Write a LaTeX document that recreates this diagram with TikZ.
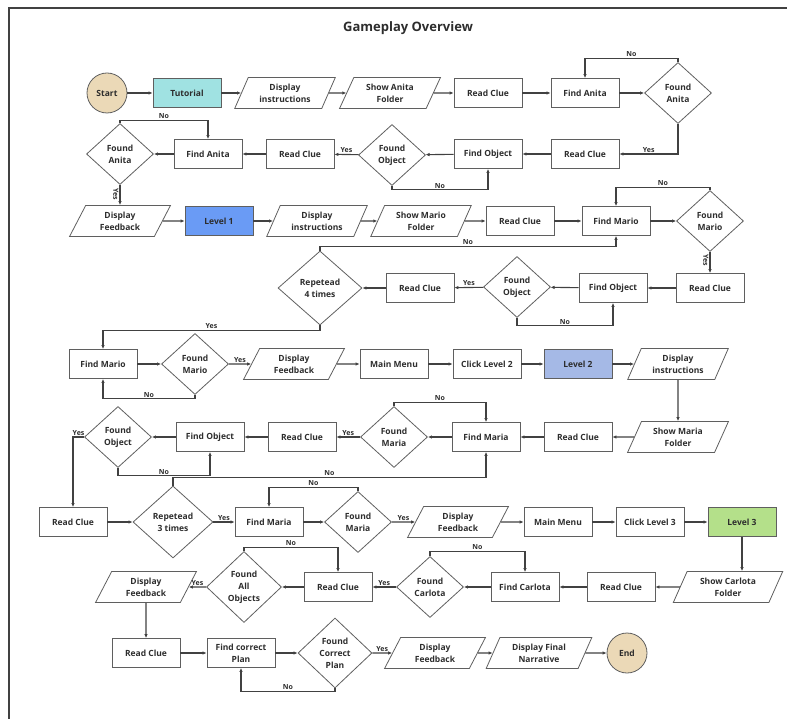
\documentclass[tikz,border=0pt]{standalone}
\usepackage{fontspec}
\setmainfont{Open Sans}
\usetikzlibrary{shapes.geometric,arrows.meta}
\definecolor{termfill}{RGB}{235,217,183}
\definecolor{tutfill}{RGB}{160,226,226}
\definecolor{lvonefill}{RGB}{106,155,245}
\definecolor{lvtwofill}{RGB}{165,185,230}
\definecolor{lvthreefill}{RGB}{180,224,138}
\definecolor{linegray}{RGB}{95,95,95}
\definecolor{arrgray}{RGB}{65,65,65}
\definecolor{txt}{RGB}{45,45,45}

\begin{document}
\begin{tikzpicture}[x=1pt,y=1pt,yscale=-1,
    font=\fontsize{8.5}{12}\selectfont\bfseries,
    box/.style={draw=linegray, line width=0.8pt, minimum width=68pt, minimum height=29pt, inner sep=1pt, align=center, text=txt},
    para/.style={trapezium, trapezium left angle=63, trapezium right angle=117, trapezium stretches=true, draw=linegray, line width=0.8pt, minimum width=101pt, minimum height=31pt, inner sep=0pt, align=center, text=txt},
    dec/.style={diamond, draw=linegray, line width=0.8pt, minimum width=67pt, minimum height=61pt, inner sep=0pt, align=center, text=txt},
    term/.style={circle, draw=linegray, line width=0.8pt, fill=termfill, minimum size=40pt, inner sep=0pt, text=txt},
    arr/.style={-{Latex[length=4pt,width=3.5pt]}, draw=arrgray, line width=1.1pt},
    lbl/.style={font=\fontsize{7}{7.5}\selectfont\bfseries, text=txt, inner sep=1pt},
    ]
    \useasboundingbox (0,0) rectangle (787,719);
    % frame
    \draw[line width=1.2pt, arrgray] (9,719) -- (9,8) -- (787,8);
    % Text Node
    \node[font=\fontsize{13}{15}\selectfont\bfseries, text=txt] (title) at (408,28) {Gameplay Overview};

    % row 1
    \node[term] (start) at (107,93) {Start};
    \node[box, fill=tutfill] (tut) at (187,93) {Tutorial};
    \node[para] (di1) at (285,93) {Display\\instructions};
    \node[para] (saf) at (390,93) {Show Anita\\Folder};
    \node[box] (rc1) at (488,93) {Read Clue};
    \node[box] (fa1) at (585,93) {Find Anita};
    \node[dec] (dfa1) at (678,93) {Found\\Anita};
    % row 2
    \node[box] (rc2) at (585,154) {Read Clue};
    \node[box] (fo1) at (488,154) {Find Object};
    \node[dec] (dfo1) at (392,155) {Found\\Object};
    \node[box] (rc3) at (300,154) {Read Clue};
    \node[box] (fa2) at (208,154) {Find Anita};
    \node[dec] (dfa2) at (120,154) {Found\\Anita};
    % row 3
    \node[para] (df1) at (120,221) {Display\\Feedback};
    \node[box, fill=lvonefill] (lv1) at (219,221) {Level 1};
    \node[para] (di2) at (317,221) {Display\\instructions};
    \node[para] (smf) at (421,221) {Show Mario\\Folder};
    \node[box] (rc4) at (520,221) {Read Clue};
    \node[box] (fm1) at (616,221) {Find Mario};
    \node[dec] (dfm1) at (710,221) {Found\\Mario};
    % row 4
    \node[box] (rc5) at (710,288) {Read Clue};
    \node[box] (fo2) at (613,288) {Find Object};
    \node[dec] (dfo2) at (517,287) {Found\\Object};
    \node[box] (rc6) at (420,288) {Read Clue};
    \node[dec, minimum width=84pt, minimum height=74pt] (rep4) at (320,288) {Repetead\\4 times};
    % row 5
    \node[box] (fm2) at (103,364) {Find Mario};
    \node[dec] (dfm2) at (195,364) {Found\\Mario};
    \node[para] (df2) at (294,364) {Display\\Feedback};
    \node[box] (mm2) at (394,364) {Main Menu};
    \node[box] (cl2) at (487,364) {Click Level 2};
    \node[box, fill=lvtwofill] (lv2) at (578,364) {Level 2};
    \node[para] (di3) at (678,364) {Display\\instructions};
    % row 6
    \node[para] (smaf) at (678,437) {Show Maria\\Folder};
    \node[box] (rc7) at (578,437) {Read Clue};
    \node[box] (fma1) at (486,437) {Find Maria};
    \node[dec] (dfma1) at (394,437) {Found\\Maria};
    \node[box] (rc8) at (302,437) {Read Clue};
    \node[box] (fo3) at (210,437) {Find Object};
    \node[dec] (dfo3) at (118,437) {Found\\Object};
    % row 7
    \node[box] (rc9) at (73,522) {Read Clue};
    \node[dec, minimum width=80pt, minimum height=72pt] (rep3) at (173,522) {Repetead\\3 times};
    \node[box] (fma2) at (269,522) {Find Maria};
    \node[dec] (dfma2) at (358,522) {Found\\Maria};
    \node[para] (df3) at (458,522) {Display\\Feedback};
    \node[box] (mm3) at (558,522) {Main Menu};
    \node[box] (cl3) at (650,522) {Click Level 3};
    \node[box, fill=lvthreefill] (lv3) at (742,522) {Level 3};
    % row 8
    \node[para, minimum width=110pt] (scf) at (728,587) {Show Carlota\\Folder};
    \node[box] (rc10) at (621,587) {Read Clue};
    \node[box] (fc) at (525,587) {Find Carlota};
    \node[dec] (dfc) at (430,587) {Found\\Carlota};
    \node[box] (rc11) at (338,587) {Read Clue};
    \node[dec, minimum width=75pt, minimum height=71pt] (dfao) at (244,587) {Found\\All\\Objects};
    \node[para] (df4) at (146,587) {Display\\Feedback};
    % row 9
    \node[box] (rc12) at (146,653) {Read Clue};
    \node[box] (fcp) at (241,653) {Find correct\\Plan};
    \node[dec, minimum width=74pt, minimum height=70pt] (dfcp) at (335,653) {Found\\Correct\\Plan};
    \node[para] (df5) at (435,653) {Display\\Feedback};
    \node[para, minimum width=106pt] (dfn) at (539,653) {Display Final\\Narrative};
    \node[term] (end) at (627,653) {End};

    % connectors, row 1
    \draw[arr] (start) -- (tut);
    \draw[arr] (tut) -- (di1);
    \draw[arr] (di1) -- (saf);
    \draw[arr] (saf) -- (rc1);
    \draw[arr] (rc1) -- (fa1);
    \draw[arr] (fa1) -- (dfa1);
    \draw[arr] (dfa1.north) -- ++(0,-4) -| node[lbl, above, pos=0.25] {No} (fa1.north);
    \draw[arr] (dfa1.south) |- node[lbl, above, pos=0.75] {Yes} (rc2.east);
    % row 2
    \draw[arr] (rc2) -- (fo1);
    \draw[arr] (fo1) -- (dfo1);
    \draw[arr] (dfo1.south) -- ++(0,4) -| node[lbl, above, pos=0.25] {No} (fo1.south);
    \draw[arr] (dfo1) -- node[lbl, above] {Yes} (rc3);
    \draw[arr] (rc3) -- (fa2);
    \draw[arr] (fa2) -- (dfa2);
    \draw[arr] (dfa2.north) -- ++(0,-3) -| node[lbl, above, pos=0.25] {No} (fa2.north);
    \draw[arr] (dfa2) -- node[lbl, rotate=-90, anchor=north, pos=0.45] {Yes} (df1);
    % row 3
    \draw[arr] (df1) -- (lv1);
    \draw[arr] (lv1) -- (di2);
    \draw[arr] (di2) -- (smf);
    \draw[arr] (smf) -- (rc4);
    \draw[arr] (rc4) -- (fm1);
    \draw[arr] (fm1) -- (dfm1);
    \draw[arr] (dfm1.north) -- ++(0,-3) -| node[lbl, above, pos=0.25] {No} (fm1.north);
    \draw[arr] (dfm1) -- node[lbl, rotate=-90, anchor=north, pos=0.4] {Yes} (rc5);
    % row 4
    \draw[arr] (rc5) -- (fo2);
    \draw[arr] (fo2) -- (dfo2);
    \draw[arr] (dfo2.south) -- ++(0,8) -| node[lbl, above, pos=0.25] {No} (fo2.south);
    \draw[arr] (dfo2) -- node[lbl, above] {Yes} (rc6);
    \draw[arr] (rc6) -- (rep4);
    \draw[arr] (rep4.north) -- ++(0,-4) -| node[lbl, above, pos=0.25] {No} (fm1.south);
    \draw[arr] (rep4.south) -- ++(0,5) -| node[lbl, above, pos=0.25] {Yes} (fm2.north);
    % row 5
    \draw[arr] (fm2) -- (dfm2);
    \draw[arr] (dfm2.south) -- ++(0,4) -| node[lbl, above, pos=0.25] {No} (fm2.south);
    \draw[arr] (dfm2) -- node[lbl, above] {Yes} (df2);
    \draw[arr] (df2) -- (mm2);
    \draw[arr] (mm2) -- (cl2);
    \draw[arr] (cl2) -- (lv2);
    \draw[arr] (lv2) -- (di3);
    \draw[arr] (di3) -- (smaf);
    % row 6
    \draw[arr] (smaf) -- (rc7);
    \draw[arr] (rc7) -- (fma1);
    \draw[arr] (fma1) -- (dfma1);
    \draw[arr] (dfma1.north) -- ++(0,-4) -| node[lbl, above, pos=0.25] {No} (fma1.north);
    \draw[arr] (dfma1) -- node[lbl, above] {Yes} (rc8);
    \draw[arr] (rc8) -- (fo3);
    \draw[arr] (fo3) -- (dfo3);
    \draw[arr] (dfo3.south) -- ++(0,8) -| node[lbl, above, pos=0.25] {No} (fo3.south);
    \draw[arr] (dfo3.west) -| node[lbl, above, pos=0.25] {Yes} (rc9.north);
    \draw[arr] (rep3.north) -- ++(0,-8) -| node[lbl, above, pos=0.25] {No} (fma1.south);
    % row 7
    \draw[arr] (rc9) -- (rep3);
    \draw[arr] (rep3) -- node[lbl, above] {Yes} (fma2);
    \draw[arr] (fma2) -- (dfma2);
    \draw[arr] (dfma2.north) -- ++(0,-4) -| node[lbl, above, pos=0.25] {No} (fma2.north);
    \draw[arr] (dfma2) -- node[lbl, above] {Yes} (df3);
    \draw[arr] (df3) -- (mm3);
    \draw[arr] (mm3) -- (cl3);
    \draw[arr] (cl3) -- (lv3);
    \draw[arr] (lv3.south) -- (lv3.south |- scf.north);
    % row 8
    \draw[arr] (scf) -- (rc10);
    \draw[arr] (rc10) -- (fc);
    \draw[arr] (fc) -- (dfc);
    \draw[arr] (dfc.north) -- ++(0,-5) -| node[lbl, above, pos=0.25] {No} (fc.north);
    \draw[arr] (dfc) -- node[lbl, above] {Yes} (rc11);
    \draw[arr] (rc11) -- (dfao);
    \draw[arr] (dfao.north) -- ++(0,-4) -| node[lbl, above, pos=0.25] {No} (rc11.north);
    \draw[arr] (dfao) -- node[lbl, above] {Yes} (df4);
    \draw[arr] (df4) -- (rc12);
    % row 9
    \draw[arr] (rc12) -- (fcp);
    \draw[arr] (fcp) -- (dfcp);
    \draw[arr] (dfcp.south) -- ++(0,3) -| node[lbl, above, pos=0.25] {No} (fcp.south);
    \draw[arr] (dfcp) -- node[lbl, above] {Yes} (df5);
    \draw[arr] (df5) -- (dfn);
    \draw[arr] (dfn) -- (end);
\end{tikzpicture}
\end{document}
